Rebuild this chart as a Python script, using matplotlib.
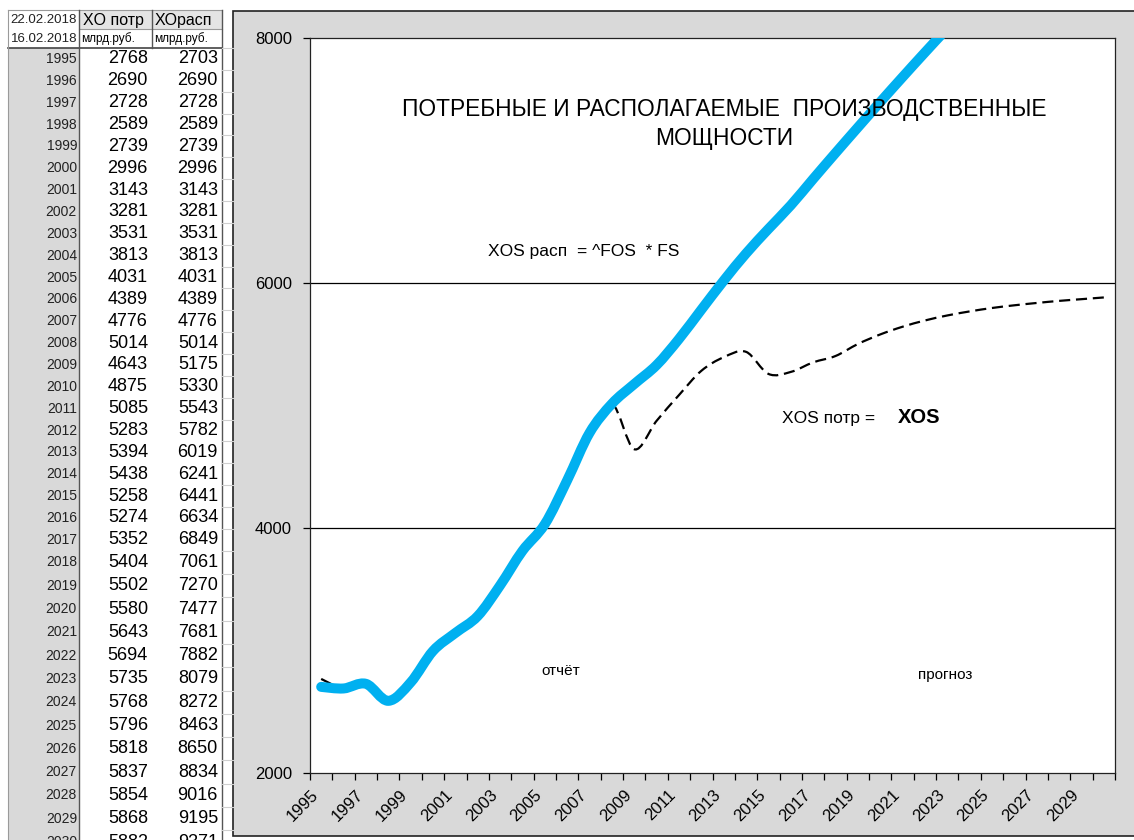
import numpy as np
import matplotlib
matplotlib.use("Agg")
import matplotlib.pyplot as plt
import matplotlib.transforms as mtransforms
from matplotlib.path import Path
from matplotlib.patches import PathPatch, Rectangle

plt.rcParams['font.family'] = ['Liberation Sans', 'DejaVu Sans']

years = list(range(1995, 2031))
xo_potr = [2768, 2690, 2728, 2589, 2739, 2996, 3143, 3281, 3531, 3813,
           4031, 4389, 4776, 5014, 4643, 4875, 5085, 5283, 5394, 5438,
           5258, 5274, 5352, 5404, 5502, 5580, 5643, 5694, 5735, 5768,
           5796, 5818, 5837, 5854, 5868, 5882]
xo_rasp = [2703, 2690, 2728, 2589, 2739, 2996, 3143, 3281, 3531, 3813,
           4031, 4389, 4776, 5014, 5175, 5330, 5543, 5782, 6019, 6241,
           6441, 6634, 6849, 7061, 7270, 7477, 7681, 7882, 8079, 8272,
           8463, 8650, 8834, 9016, 9195, 9371]
header_dates = ["22.02.2018", "16.02.2018"]
col_names = ["XO потр", "XOрасп"]
col_units = ["млрд.руб.", "млрд.руб."]
y_ticks = [2000, 4000, 6000, 8000]

W, H = 1134, 840
fig = plt.figure(figsize=(W / 100, H / 100), dpi=100)
fig.patch.set_facecolor('white')


def fx(px):
    return px / W


def fy(py):
    return 1 - py / H


# Smoothed line like Excel (cubic Bezier through the points)
def smooth_path(xs, ys):
    pts = np.column_stack([xs, ys]).astype(float)
    n = len(pts)
    verts = [pts[0]]
    codes = [Path.MOVETO]
    for i in range(n - 1):
        p0 = pts[max(i - 1, 0)]
        p1 = pts[i]
        p2 = pts[i + 1]
        p3 = pts[min(i + 2, n - 1)]
        verts += [p1 + (p2 - p0) / 6, p2 - (p3 - p1) / 6, p2]
        codes += [Path.CURVE4] * 3
    return Path(verts, codes)


# ---- background: spreadsheet table + grey chart frame (pixel coords) ----
bg = fig.add_axes([0, 0, 1, 1], zorder=0)
bg.set_xlim(0, W)
bg.set_ylim(H, 0)
bg.axis('off')

bg.add_patch(Rectangle((233, 11), W - 233 + 5, 836 - 11, facecolor='#d9d9d9',
                       edgecolor='#222222', lw=1.2))

row_top = 48
row_h = np.where(np.arange(len(years)) < 23, 21.86, 23.3)
tops = row_top + np.concatenate([[0], np.cumsum(row_h)[:-1]])
centers = tops + row_h / 2

bg.add_patch(Rectangle((8, row_top), 71, H - row_top, facecolor='#d9d9d9', edgecolor='none'))
bg.add_patch(Rectangle((79, 10), 143, 19, facecolor='#e4e4e4', edgecolor='none'))
bg.plot([8, 222], [10, 10], color='#9a9a9a', lw=0.8)
bg.plot([79, 222], [29, 29], color='#9a9a9a', lw=0.8)
bg.plot([8, 222], [row_top, row_top], color='#444444', lw=1.2)
bg.plot([8, 8], [10, H], color='#9a9a9a', lw=0.8)
bg.plot([79, 79], [10, H], color='#555555', lw=1.0)
bg.plot([152, 152], [10, row_top], color='#555555', lw=1.0)
bg.plot([222, 222], [10, H], color='#555555', lw=1.0)
for t in tops:
    bg.plot([222, 233], [t, t], color='#cfcfcf', lw=0.8)

bg.text(77, 20, header_dates[0], ha='right', va='center', fontsize=9.5, color='#222222')
bg.text(77, 38.5, header_dates[1], ha='right', va='center', fontsize=9.5, color='#222222')
bg.text(83, 20, col_names[0], ha='left', va='center', fontsize=11.5)
bg.text(155, 20, col_names[1], ha='left', va='center', fontsize=11.5)
bg.text(81, 38.5, col_units[0], ha='left', va='center', fontsize=8.5)
bg.text(154, 38.5, col_units[1], ha='left', va='center', fontsize=8.5)

for yr, a, b, c in zip(years, xo_potr, xo_rasp, centers):
    bg.text(77, c, str(yr), ha='right', va='center', fontsize=10, color='#222222')
    bg.text(148, c, str(a), ha='right', va='center', fontsize=13)
    bg.text(218, c, str(b), ha='right', va='center', fontsize=13)

# ---- chart ----
ax = fig.add_axes([fx(310), fy(773), fx(1115 - 310), (773 - 38) / H], zorder=2)
ax.set_facecolor('white')
xs = np.arange(len(years))

ax.add_patch(PathPatch(smooth_path(xs, xo_potr), fill=False, edgecolor='black',
                       lw=1.6, linestyle=(0, (5, 2.6)), zorder=3))
ax.add_patch(PathPatch(smooth_path(xs, xo_rasp), fill=False, edgecolor='#00b0f0',
                       lw=7.2, capstyle='round', joinstyle='round', zorder=4))

ax.set_xlim(-0.5, len(years) - 0.5)
ax.set_ylim(2000, 8000)
ax.set_yticks(y_ticks)
ax.set_yticklabels([str(v) for v in y_ticks], fontsize=12)
for v in y_ticks[1:-1]:
    ax.axhline(v, color='black', lw=0.9, zorder=1)

ax.set_xticks(np.arange(-0.5, len(years), 1), minor=True)
ax.set_xticks(xs[::2])
ax.set_xticklabels([str(y) for y in years[::2]], rotation=45, ha='right',
                   fontsize=12)
shift = mtransforms.ScaledTranslation(4 / 100, 0, fig.dpi_scale_trans)
for lab in ax.get_xticklabels():
    lab.set_transform(lab.get_transform() + shift)
ax.tick_params(axis='x', which='major', length=0, pad=10)
ax.tick_params(axis='x', which='minor', length=5, width=0.9, direction='out')
ax.tick_params(axis='y', length=5, width=0.9, direction='out', pad=8)
for s in ax.spines.values():
    s.set_color('#222222')
    s.set_linewidth(0.9)

# annotations
ax.text(0.514, 0.883, "ПОТРЕБНЫЕ И РАСПОЛАГАЕМЫЕ  ПРОИЗВОДСТВЕННЫЕ\nМОЩНОСТИ",
        transform=ax.transAxes, ha='center', va='center', fontsize=16.4,
        linespacing=1.3, zorder=5)
ax.text(0.221, 0.71, "XOS расп  = ^FOS  * FS", transform=ax.transAxes,
        ha='left', va='center', fontsize=12.5, zorder=5)
ax.text(0.586, 0.482, "XOS потр =  ", transform=ax.transAxes,
        ha='left', va='center', fontsize=12.5, zorder=5)
ax.text(0.73, 0.483, "XOS", transform=ax.transAxes, ha='left', va='center',
        fontsize=14.5, fontweight='bold', zorder=5)
ax.text(0.287, 0.139, "отчёт", transform=ax.transAxes, ha='left', va='center',
        fontsize=11, zorder=5)
ax.text(0.755, 0.133, "прогноз", transform=ax.transAxes, ha='left', va='center',
        fontsize=11, zorder=5)

fig.savefig("out.png", dpi=100)
